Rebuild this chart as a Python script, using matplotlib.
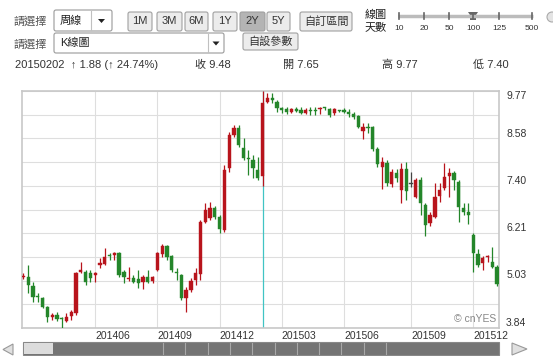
import matplotlib
matplotlib.use("Agg")
import matplotlib.pyplot as plt
import matplotlib.patches as mpatches
import matplotlib.transforms as mtransforms
import numpy as np
import pandas as pd

plt.rcParams["font.family"] = ["Liberation Sans", "Noto Sans CJK TC", "DejaVu Sans"]

red = "#b8141c"
green = "#24862a"
grid_c = "#dedede"
text_c = "#333333"

# weekly candles, 2Y view
weeks = pd.date_range("2014-02-17", periods=100, freq="W-MON")

opens = [5.11, 5.12, 4.90, 4.63, 4.60, 4.37, 4.12, 4.17, 4.08, 4.02,
         4.15, 4.22, 5.25, 5.25, 5.22, 5.17, 5.42, 5.45, 5.65, 5.67,
         5.72, 5.25, 5.07, 5.10, 5.07, 5.00, 5.12, 5.02, 5.30, 5.70,
         5.90, 5.65, 5.25, 5.17, 4.60, 4.80, 5.05, 5.20, 6.50, 6.60,
         6.85, 6.62, 6.30, 7.85, 8.67, 8.85, 8.35, 8.10, 8.05, 7.80,
         7.65, 9.50, 9.60, 9.50, 9.35, 9.32, 9.25, 9.32, 9.30, 9.22,
         9.28, 9.28, 9.32, 9.35, 9.32, 9.22, 9.28, 9.30, 9.25, 9.20,
         9.15, 8.77, 8.85, 8.87, 8.32, 7.87, 7.97, 7.45, 7.72, 7.30,
         7.82, 7.44, 7.12, 7.55, 6.92, 6.47, 6.62, 7.15, 7.35, 7.65,
         7.72, 7.50, 6.85, 6.75, 6.17, 5.70, 5.47, 5.61, 5.50, 5.37]
highs = [5.22, 5.42, 5.00, 4.72, 4.62, 4.40, 4.22, 4.25, 4.12, 4.22,
         4.30, 5.25, 5.50, 5.30, 5.30, 5.25, 5.60, 5.85, 5.72, 5.75,
         5.75, 5.30, 5.37, 5.17, 5.30, 5.17, 5.30, 5.15, 5.75, 5.95,
         5.92, 5.67, 5.35, 5.20, 4.87, 5.10, 5.35, 6.55, 6.97, 7.00,
         6.90, 6.67, 7.92, 8.75, 8.92, 8.92, 8.60, 8.30, 8.17, 8.12,
         9.77, 9.72, 9.72, 9.55, 9.37, 9.37, 9.35, 9.37, 9.37, 9.35,
         9.37, 9.37, 9.37, 9.37, 9.35, 9.35, 9.30, 9.35, 9.32, 9.25,
         9.17, 8.97, 8.97, 8.90, 8.37, 8.12, 8.05, 7.82, 7.82, 7.97,
         8.00, 7.75, 7.60, 7.62, 6.97, 6.75, 7.47, 7.47, 7.97, 7.85,
         7.77, 7.55, 6.97, 6.97, 6.22, 5.82, 5.65, 5.67, 5.87, 5.42]
lows = [5.07, 4.72, 4.50, 4.50, 4.35, 4.00, 4.05, 4.02, 3.84, 4.00,
        4.05, 4.17, 5.22, 4.92, 5.00, 5.00, 5.35, 5.42, 5.55, 5.55,
        5.12, 4.97, 5.02, 4.97, 4.85, 4.82, 4.97, 4.97, 5.27, 5.62,
        5.55, 5.25, 5.05, 4.55, 4.25, 4.75, 4.92, 5.05, 6.47, 6.55,
        6.57, 6.22, 6.25, 7.75, 8.62, 8.37, 8.05, 7.67, 7.60, 7.55,
        7.40, 9.47, 9.47, 9.25, 9.22, 9.20, 9.22, 9.25, 9.20, 9.20,
        9.17, 9.17, 9.20, 9.30, 9.12, 9.17, 9.25, 9.22, 9.12, 9.07,
        8.85, 8.57, 8.72, 8.27, 7.87, 7.32, 7.40, 7.37, 7.50, 6.97,
        7.05, 7.37, 7.10, 6.67, 6.15, 6.40, 6.60, 7.00, 7.30, 7.12,
        7.30, 6.50, 6.67, 6.45, 5.25, 5.37, 5.30, 5.50, 5.35, 4.90]
closes = [5.15, 4.92, 4.62, 4.61, 4.37, 4.12, 4.17, 4.07, 4.06, 4.12,
          4.25, 5.22, 5.30, 5.00, 5.10, 5.22, 5.47, 5.62, 5.63, 5.72,
          5.17, 5.12, 5.10, 5.00, 4.97, 5.12, 5.00, 5.12, 5.72, 5.90,
          5.62, 5.30, 5.22, 4.60, 4.80, 5.02, 5.22, 6.50, 6.80, 6.85,
          6.62, 6.32, 7.80, 8.67, 8.85, 8.42, 8.10, 8.08, 7.85, 7.60,
          9.48, 9.60, 9.55, 9.35, 9.30, 9.25, 9.32, 9.27, 9.22, 9.30,
          9.27, 9.26, 9.35, 9.34, 9.17, 9.32, 9.27, 9.25, 9.20, 9.12,
          8.87, 8.87, 8.84, 8.32, 7.95, 8.00, 7.47, 7.75, 7.60, 7.82,
          7.27, 7.44, 7.55, 6.97, 6.42, 6.67, 7.12, 7.30, 7.62, 7.72,
          7.55, 6.87, 6.75, 6.67, 5.72, 5.42, 5.60, 5.63, 5.37, 4.95]

y_labels = ["3.84", "5.03", "6.21", "7.40", "8.58", "9.77"]
month_labels = ["201406", "201409", "201412", "201503", "201506", "201509", "201512"]
selected = pd.Timestamp("2015-02-02")

fig = plt.figure(figsize=(5.53, 3.56), dpi=100)

# ---- page widgets, drawn in pixel coords ----
ui = fig.add_axes([0, 0, 1, 1], zorder=0)
ui.set_xlim(0, 553)
ui.set_ylim(356, 0)
ui.axis("off")

def box(x0, y0, x1, y1, fc, ec="#a0a0a0"):
    ui.add_patch(mpatches.FancyBboxPatch((x0, y0), x1 - x0, y1 - y0,
                                         boxstyle="round,pad=0,rounding_size=2",
                                         fc=fc, ec=ec, lw=0.8))

def arrow_down(cx, cy):
    ui.add_patch(mpatches.Polygon([[cx - 3.5, cy - 2], [cx + 3.5, cy - 2], [cx, cy + 2]],
                                  closed=True, fc="#222", ec="none"))

# row 1
ui.text(14, 21, "請選擇", fontsize=8, color="#555", va="center")
box(54, 10, 112, 31, "#ffffff", "#9a9a9a")
ui.plot([91, 91], [11, 30], color="#c0c0c0", lw=0.8)
ui.text(60, 20.5, "周線", fontsize=8, color="#222", va="center")
arrow_down(101.5, 21)

buttons = [("1M", 128, 152), ("3M", 157, 182), ("6M", 185, 208), ("1Y", 213, 237),
           ("2Y", 240, 265), ("5Y", 267, 290), ("自訂區間", 300, 352)]
for lab, x0, x1 in buttons:
    box(x0, 12, x1, 31, "#b4b4b4" if lab == "2Y" else "#ececec")
    ui.text((x0 + x1) / 2, 21.5, lab, fontsize=8, color="#333", ha="center", va="center")

# row 2
ui.text(14, 44, "請選擇", fontsize=8, color="#555", va="center")
box(54, 33, 224, 53, "#ffffff", "#9a9a9a")
ui.plot([208, 208], [34, 52], color="#c0c0c0", lw=0.8)
ui.text(60, 43, "K線圖", fontsize=8, color="#222", va="center")
arrow_down(216, 43.5)
box(243, 33, 298, 50, "#ececec")
ui.text(270.5, 41.5, "自設參數", fontsize=8, color="#333", ha="center", va="center")

# row 3: selected candle summary
sel = weeks.get_loc(selected)
chg = closes[sel] - closes[sel - 1]
pct = chg / closes[sel - 1] * 100
ui.text(15, 65, f"{selected:%Y%m%d}  ↑ {chg:.2f} (↑ {pct:.2f}%)", fontsize=8, color=text_c, va="center")
ui.text(195, 65, f"收 {closes[sel]:.2f}", fontsize=8, color=text_c, va="center")
ui.text(283, 65, f"開 {opens[sel]:.2f}", fontsize=8, color=text_c, va="center")
ui.text(382, 65, f"高 {highs[sel]:.2f}", fontsize=8, color=text_c, va="center")
ui.text(473, 65, f"低 {lows[sel]:.2f}", fontsize=8, color=text_c, va="center")

# slider
ui.text(365, 15, "線圖", fontsize=8, color="#222", va="center")
ui.text(365, 27, "天數", fontsize=8, color="#222", va="center")
ui.plot([398, 533], [16, 16], color="#bcbcbc", lw=2.5, solid_capstyle="butt")
for sx, s in zip([399, 424, 449, 473, 499, 532], ["10", "20", "50", "100", "125", "500"]):
    ui.plot([sx, sx], [13, 19], color="#666", lw=1.2)
    ui.text(sx, 29, s, fontsize=6, color="#333", ha="center", va="center")
ui.add_patch(mpatches.Polygon([[468, 12], [478, 12], [476, 15], [476, 20], [470, 20], [470, 15]],
                              closed=True, fc="#666", ec="none"))
ui.add_patch(mpatches.Circle((552, 17), 5, fc="#e4e4e4", ec="#aaa", lw=0.8))

# scrollbar
ui.add_patch(mpatches.Rectangle((23, 342), 476, 13, fc="#747474", ec="#888", lw=0.8))
ui.add_patch(mpatches.Rectangle((24, 343), 29, 11, fc="#dcdcdc", ec="none"))
for sx in np.arange(163, 390, 22.3):
    ui.plot([sx, sx], [343, 354], color="#a8a8a8", lw=0.8)
ui.add_patch(mpatches.Polygon([[13, 344], [13, 355], [3, 349.5]], closed=True, fc="#e0e0e0", ec="#999", lw=0.8))
ui.add_patch(mpatches.Polygon([[512, 343], [512, 355], [527, 349]], closed=True, fc="#e0e0e0", ec="#999", lw=0.8))

# ---- candlestick chart ----
ax = fig.add_axes([22 / 553, 28 / 356, 477 / 553, 237 / 356], zorder=1)

x = np.arange(len(opens))
o, h, l, c = map(np.array, (opens, highs, lows, closes))
col = np.where(c > o, red, np.where(c < o, green, "#444444"))
ax.axvline(sel, color="#40c4c4", lw=0.9, zorder=2)
ax.vlines(x, l, h, colors=col, lw=0.9, zorder=3)
ax.bar(x, np.maximum(np.abs(c - o), 0.025), bottom=np.minimum(o, c), width=0.68,
       color=col, edgecolor=col, lw=0.3, zorder=4)

levels = np.linspace(float(y_labels[0]), float(y_labels[-1]), 11)
ax.set_ylim(levels[0], levels[-1])
ax.set_yticks(levels)
ax.set_xlim(-0.3, 99.4)

month_pos = [int(np.argmax((weeks.year == int(m[:4])) & (weeks.month == int(m[4:]))))
             for m in month_labels]
ax.set_xticks(month_pos)
ax.set_xticklabels(month_labels, ha="left", fontsize=7.5, color=text_c)
ax.tick_params(axis="x", length=0, pad=2)
ax.tick_params(axis="y", length=0, labelleft=False, labelright=False)
ax.grid(True, color=grid_c, lw=0.8)
ax.set_axisbelow(True)
for sp in ax.spines.values():
    sp.set_color("#c8c8c8")
    sp.set_linewidth(1.2)

blend = mtransforms.blended_transform_factory(ax.transAxes, ax.transData)
for lab in y_labels:
    v = float(lab)
    ax.text(1.015, v, lab, transform=blend, ha="left",
            va="top" if v == levels[-1] else "bottom",
            fontsize=7.5, color=text_c, clip_on=False)

ax.text(0.995, 0.015, "© cnYES", transform=ax.transAxes, ha="right", va="bottom",
        fontsize=7.5, color="#888888")

fig.savefig("out.png", dpi=100)
